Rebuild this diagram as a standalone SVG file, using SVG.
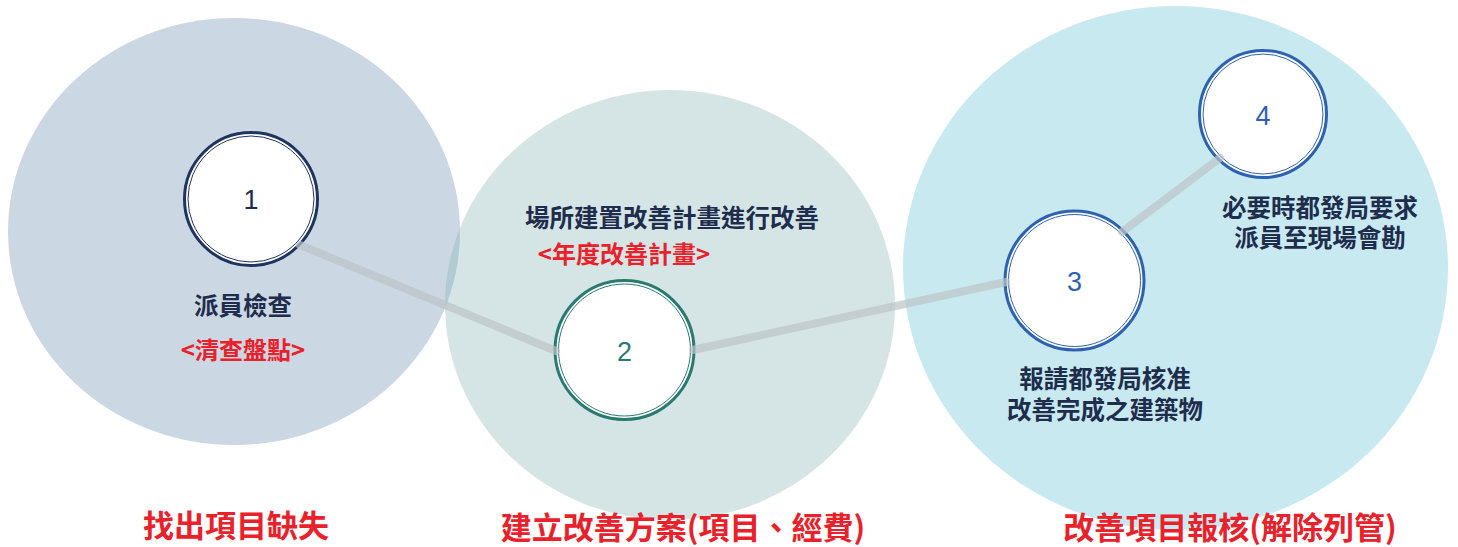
<svg xmlns="http://www.w3.org/2000/svg" width="1458" height="547" viewBox="0 0 1458 547">
<style>
.lbl{font-family:"Noto Sans CJK TC","Liberation Sans",sans-serif;font-weight:bold;text-anchor:middle;dominant-baseline:central}
.navy{fill:#1f2d4d;font-size:24.5px}
.red{fill:#e8212b;font-size:24px}
.title{fill:#e8212b;font-size:31px}
.num{font-family:"Liberation Sans",Arial,sans-serif;font-size:27px;text-anchor:middle;dominant-baseline:central}
.ring{fill:#ffffff;stroke-width:3}
.inner{fill:none;stroke-width:1}
.conn{stroke:#bcc3c8;stroke-opacity:0.7;stroke-width:8;stroke-linecap:round;fill:none}
</style>
<rect width="1458" height="547" fill="#ffffff"/>
<g id="stage1">
<ellipse cx="234" cy="231.5" rx="226" ry="213.5" fill="#cbd7e3"/>
</g>
<g id="stage2">
<ellipse cx="670" cy="305" rx="225" ry="215" fill="#7fb0b0" fill-opacity="0.33"/>
</g>
<g id="stage3">
<ellipse cx="1175.5" cy="268" rx="272.5" ry="262" fill="#c8e9f0"/>
</g>
<g id="node1">
<circle cx="251" cy="199" r="66.5" class="ring" stroke="#1f3560"/>
<circle cx="251" cy="199" r="63" class="inner" stroke="#1f3560"/>
<text x="251" y="200" class="num" fill="#1f2d4d">1</text>
</g>
<g id="node2">
<circle cx="624.5" cy="350" r="69.5" class="ring" stroke="#2a7a70"/>
<circle cx="624.5" cy="350" r="66" class="inner" stroke="#2a7a70"/>
<text x="624.5" y="352" class="num" fill="#2a7a70">2</text>
</g>
<g id="node3">
<circle cx="1074.5" cy="280.5" r="69.5" class="ring" stroke="#2e62b0"/>
<circle cx="1074.5" cy="280.5" r="66" class="inner" stroke="#2e62b0"/>
<text x="1074.5" y="282" class="num" fill="#2e62b0">3</text>
</g>
<g id="node4">
<circle cx="1263" cy="114" r="63.5" class="ring" stroke="#2e62b0"/>
<circle cx="1263" cy="114" r="60" class="inner" stroke="#2e62b0"/>
<text x="1263" y="116" class="num" fill="#2e62b0">4</text>
</g>
<g id="connectors">
<line x1="300" y1="245" x2="556" y2="351" class="conn"/>
<line x1="693" y1="350" x2="1006" y2="282" class="conn"/>
<line x1="1122" y1="232" x2="1220" y2="158" class="conn"/>
</g>
<g id="labels">
<text x="243" y="304" class="lbl navy">派員檢查</text>
<text x="243" y="348" class="lbl red">&lt;清查盤點&gt;</text>
<text x="672" y="216" class="lbl navy">場所建置改善計畫進行改善</text>
<text x="624" y="252" class="lbl red">&lt;年度改善計畫&gt;</text>
<text x="1105" y="377" class="lbl navy"><tspan x="1105" y="377">報請都發局核准</tspan><tspan x="1105" y="408">改善完成之建築物</tspan></text>
<text x="1320" y="206" class="lbl navy"><tspan x="1320" y="206">必要時都發局要求</tspan><tspan x="1320" y="236">派員至現場會勘</tspan></text>
</g>
<g id="titles">
<text x="236" y="523" class="lbl title">找出項目缺失</text>
<text x="683" y="525" class="lbl title">建立改善方案(項目、經費)</text>
<text x="1230" y="525" class="lbl title">改善項目報核(解除列管)</text>
</g>
</svg>
